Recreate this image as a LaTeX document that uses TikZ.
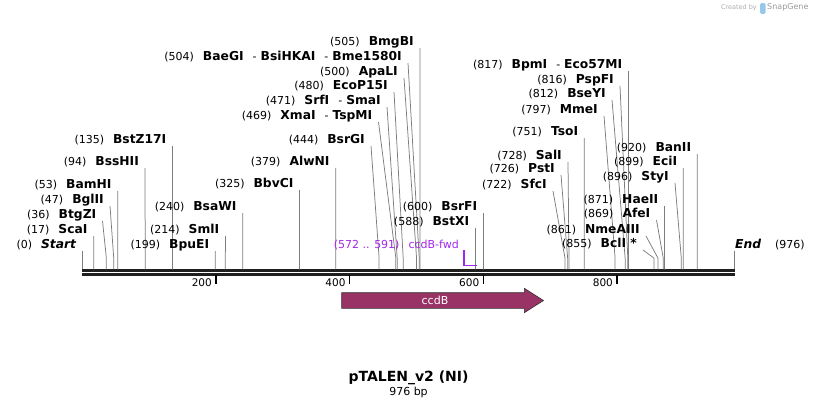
\documentclass[tikz,border=0pt]{standalone}
\usepackage{fontspec}
\setmainfont{DejaVu Sans}
\usepackage{xcolor}
\usepackage{tikz}
\usetikzlibrary{calc}
\definecolor{ccdbfill}{RGB}{153,51,102}
\definecolor{primerviolet}{RGB}{163,38,235}
\definecolor{cutgray}{RGB}{125,125,125}
\definecolor{snapblue}{RGB}{150,200,235}
\tikzstyle{sitelabel} = [anchor=east, inner sep=0pt, font=\fontsize{11}{13}\selectfont]
\tikzstyle{cutline} = [draw=cutgray, line width=0.75pt]
\tikzstyle{backbone} = [draw=black!88, line width=2.3pt]
\tikzstyle{ruler} = [draw=black, line width=1.3pt]
\tikzstyle{ticklabel} = [anchor=east, inner sep=0pt, font=\fontsize{10.5}{12}\selectfont]
\tikzstyle{primer} = [draw=primerviolet, line width=1.4pt]
\tikzstyle{feature} = [draw=black!80, fill=ccdbfill, line width=0.6pt]
\newcommand{\enz}[1]{{\fontsize{12.3}{14}\selectfont\bfseries #1}}
\newcommand{\alsocuts}{{\fontsize{11}{13}\selectfont\mdseries\hspace{9pt}-\hspace{4pt}}}

\begin{document}
\begin{tikzpicture}[x=1pt, y=-1pt]
\useasboundingbox (0,0) rectangle (818,408);

% sequence line
\coordinate (b0) at (82.3,270.5);
\coordinate (b976) at (734.8,270.5);
\draw[backbone] (b0) -- (b976);
\draw[backbone] ([yshift=-4pt]b0) -- ([yshift=-4pt]b976);

% ruler
\foreach \t in {200,400,600,800}{
  \pgfmathsetmacro{\tx}{82.3+0.6685*\t}
  \coordinate (t\t) at (\tx,275);
  \coordinate (te\t) at (\tx,283.5);
  \draw[ruler] (t\t) -- (te\t);
  \node[ticklabel] (tl\t) at (\tx-4,282.5) {\t};
}

% cut sites
\foreach \p/\tx/\ly/\nm in {17/93.7/230/ScaI, 36/102.5/215/BtgZI,
    47/110/200/BglII, 53/117.7/185/BamHI, 94/145.1/162/BssHII,
    135/172.5/140/BstZ17I, 199/215.3/245/BpuEI, 214/225.4/230/SmlI,
    240/242.7/207/BsaWI, 325/299.6/184/BbvCI, 379/335.7/162/AlwNI,
    444/371/140/BsrGI, 469/378.5/116/XmaI\alsocuts TspMI,
    471/387/101/SrfI\alsocuts SmaI, 480/394/86/EcoP15I,
    500/404/72/ApaLI, 504/408/57/BaeGI\alsocuts BsiHKAI\alsocuts Bme1580I,
    505/419.9/42/BmgBI, 588/475.4/222/BstXI, 600/483.4/207/BsrFI,
    722/553/185/SfcI, 726/561/169/PstI, 728/568/156/SalI,
    751/584.3/132/TsoI, 797/604/110/MmeI, 812/612/94/BseYI,
    816/620/80/PspFI, 817/628.5/65/BpmI\alsocuts Eco57MI,
    855/643/244/BclI *, 861/646/230/NmeAIII, 869/656.5/214/AfeI,
    871/664.5/200/HaeII, 896/675/177/StyI, 899/683.3/162/EciI,
    920/697.3/148/BanII}{
  \pgfmathsetmacro{\sx}{82.3+0.6685*\p}
  \node[sitelabel] (l\p) at (\tx-6,\ly) {(\p)\hspace{9pt}\enz{\nm}};
  \coordinate (k\p) at (\sx,258);
  \coordinate (s\p) at (\sx,269.3);
  \draw[cutline] ([shift={(6pt,-6pt)}]l\p.east) -- (k\p) -- (s\p);
}

% ends of the sequence
\node[sitelabel] (l0) at (76.3,245) {(0)\hspace{9pt}\enz{\itshape Start}};
\coordinate (s0) at (82.3,269.3);
\draw[cutline] ([shift={(6pt,-5.5pt)}]l0.east) -- (s0);
\node[sitelabel, anchor=west] (l976) at (735,245) {\enz{\itshape End}\hspace{14pt}(976)};
\coordinate (s976) at (734.8,269.3);
\draw[cutline] ([shift={(-0.2pt,-5.5pt)}]l976.west) -- (s976);

% primer
\node[sitelabel, text=primerviolet] (prl) at (459,245) {(572 .. 591)\hspace{9pt}ccdB-fwd};
\coordinate (pr0) at (464,250);
\coordinate (pr1) at (464,265.7);
\coordinate (pr2) at (476.5,265.7);
\draw[primer] (pr0) -- (pr1) -- (pr2);

% ccdB gene
\draw[feature] (341.7,292.7) -- (524.3,292.7) -- (524.3,288.3) -- (543.5,300.5)
    -- (524.3,312.7) -- (524.3,308.3) -- (341.7,308.3) -- cycle;
\node[text=white, font=\fontsize{11}{13}\selectfont] (ccdb) at (435,300.5) {ccdB};

% title
\node[font=\bfseries\fontsize{14}{16}\selectfont] (title) at (408.5,378) {pTALEN\_v2 (NI)};
\node[font=\fontsize{11}{13}\selectfont] (bp) at (408.5,392.5) {976 bp};

% watermark
\node[anchor=east, inner sep=0pt, text=black!32, font=\fontsize{6.5}{8}\selectfont] (wm1) at (757,7.5) {Created by};
\fill[snapblue, rounded corners=1.5pt] (760,3) rectangle (765.5,14);
\node[anchor=west, inner sep=0pt, text=black!40, font=\fontsize{8}{10}\selectfont] (wm2) at (767,7.5) {SnapGene};
\end{tikzpicture}
\end{document}
